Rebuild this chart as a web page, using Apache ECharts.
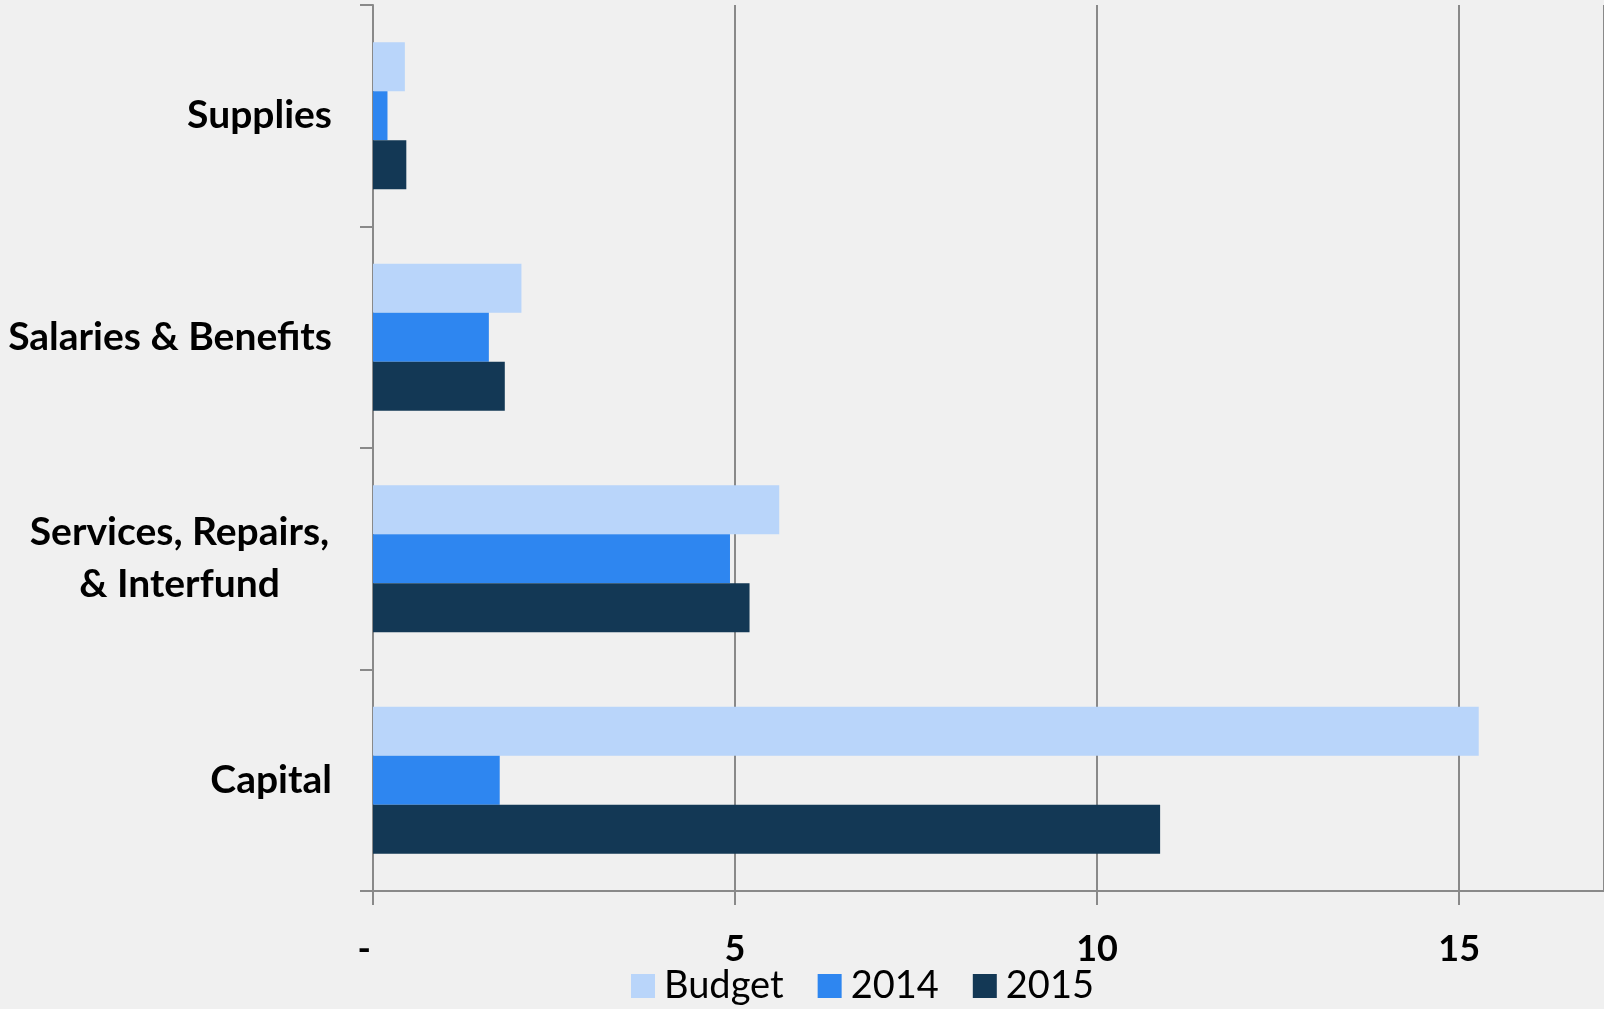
<!DOCTYPE html>
<html>
<head>
<meta charset="utf-8"/>
<style>
html,body{margin:0;padding:0;background:#f0f0f0;}
#main{width:1604px;height:1009px;}
</style>
</head>
<body>
<div id="main"></div>
<script src="https://cdn.jsdelivr.net/npm/echarts@6/dist/echarts.min.js"></script>
<script>
// categories, top to bottom
var categories = ['Supplies', 'Salaries & Benefits', 'Services, Repairs, & Interfund', 'Capital'];
var budget = [0.44, 2.05, 5.61, 15.27];
var y2014 = [0.20, 1.60, 4.93, 1.75];
var y2015 = [0.46, 1.82, 5.20, 10.87];
var xTicks = [0, 5, 10, 15];

var myChart = echarts.init(document.getElementById('main'));
var font = 'Lato';

function bar(name, data, color) {
    return {
        name: name,
        type: 'bar',
        data: data,
        barWidth: 49,
        barGap: '0%',
        itemStyle: { color: color }
    };
}

var option = {
    backgroundColor: '#f0f0f0',
    animation: false,
    grid: { left: 373, right: 0, top: 5, bottom: 118, outerBoundsMode: 'none' },
    legend: {
        left: 626,
        bottom: -1,
        icon: 'rect',
        itemWidth: 24,
        itemHeight: 24,
        itemGap: 34,
        textStyle: { fontFamily: font, fontSize: 38, color: '#000', padding: [0, 0, 0, 4] },
        data: ['Budget', '2014', '2015']
    },
    xAxis: {
        type: 'value',
        min: 0,
        max: 17,
        interval: 5,
        axisLine: { show: true, lineStyle: { color: '#898989', width: 2 } },
        axisTick: { show: true, length: 14, lineStyle: { color: '#898989', width: 2 } },
        splitLine: { show: true, lineStyle: { color: '#898989', width: 2 } },
        axisLabel: {
            margin: 40,
            showMaxLabel: false,
            fontFamily: font,
            fontWeight: 'bold',
            fontSize: 36,
            color: '#000',
            formatter: function (v) {
                if (xTicks.indexOf(v) < 0) return '';
                return v === 0 ? '-  ' : String(v);
            }
        }
    },
    yAxis: {
        type: 'category',
        inverse: true,
        data: categories,
        axisLine: { show: true, lineStyle: { color: '#898989', width: 2 } },
        axisTick: { show: true, length: 13, lineStyle: { color: '#898989', width: 2 } },
        splitLine: { show: false },
        axisLabel: {
            margin: 41,
            fontFamily: font,
            fontWeight: 'bold',
            fontSize: 39,
            color: '#000',
            formatter: function (v) {
                if (v === 'Services, Repairs, & Interfund') {
                    return '{c|Services, Repairs,}\n{c|& Interfund}';
                }
                return v;
            },
            rich: {
                c: {
                    width: 305,
                    align: 'center',
                    lineHeight: 52,
                    fontFamily: font,
                    fontWeight: 'bold',
                    fontSize: 39,
                    color: '#000'
                }
            }
        }
    },
    series: [
        bar('Budget', budget, '#b9d5fa'),
        bar('2014', y2014, '#2e86f0'),
        bar('2015', y2015, '#133855')
    ]
};

myChart.setOption(option);
</script>
</body>
</html>
